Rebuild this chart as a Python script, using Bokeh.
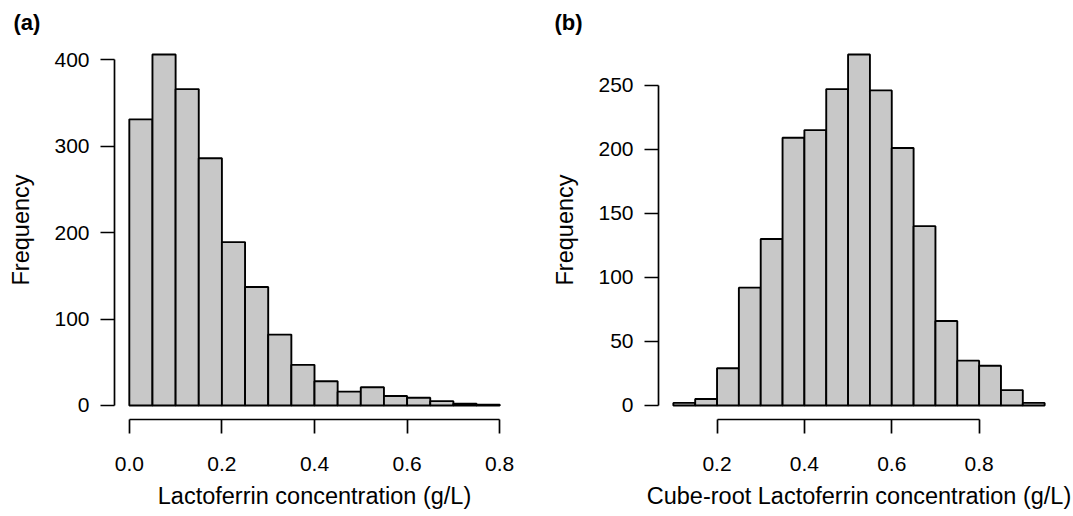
from bokeh.plotting import figure
from bokeh.layouts import row
from bokeh.models import Range1d, FixedTicker, ColumnDataSource, PrintfTickFormatter
from bokeh.embed import file_html
from bokeh.resources import INLINE

# ---- data ----
edges_a = [0.00, 0.05, 0.10, 0.15, 0.20, 0.25, 0.30, 0.35, 0.40, 0.45, 0.50,
           0.55, 0.60, 0.65, 0.70, 0.75, 0.80]
counts_a = [331, 406, 366, 286, 189, 137, 82, 47, 28, 16, 21, 11, 9, 5, 2, 1]
xticks_a = [0.0, 0.2, 0.4, 0.6, 0.8]
yticks_a = [0, 100, 200, 300, 400]

edges_b = [0.10, 0.15, 0.20, 0.25, 0.30, 0.35, 0.40, 0.45, 0.50, 0.55, 0.60,
           0.65, 0.70, 0.75, 0.80, 0.85, 0.90, 0.95]
counts_b = [2, 5, 29, 92, 130, 209, 215, 247, 274, 246, 201, 140, 66, 35, 31, 12, 2]
xticks_b = [0.2, 0.4, 0.6, 0.8]
yticks_b = [0, 50, 100, 150, 200, 250]

xlabel_a = "Lactoferrin concentration (g/L)"
xlabel_b = "Cube-root Lactoferrin concentration (g/L)"
ylabel = "Frequency"

FONT = "Liberation Sans"
BAR_FILL = "#c8c8c8"


def panel(edges, counts, xticks, yticks, xlabel, tag, width, left, right, tag_offset):
    lo, hi = edges[0], edges[-1]
    dx = (hi - lo) * 0.04
    ymax = max(counts)
    dy = ymax * 0.04
    p = figure(width=width, height=516,
               x_range=Range1d(lo - dx, hi + dx), y_range=Range1d(-dy, ymax + dy),
               output_backend="svg", toolbar_location=None,
               min_border_left=left, min_border_right=right,
               min_border_top=40, min_border_bottom=97)
    src = ColumnDataSource(dict(left=edges[:-1], right=edges[1:],
                                top=counts, bottom=[0] * len(counts)))
    p.quad(left="left", right="right", top="top", bottom="bottom", source=src,
           fill_color=BAR_FILL, line_color="black", line_width=1.9)
    p.grid.visible = False
    p.outline_line_color = None
    p.background_fill_color = "white"
    p.border_fill_color = "white"

    xa = p.xaxis[0]
    xa.ticker = FixedTicker(ticks=xticks, minor_ticks=[])
    xa.bounds = (xticks[0], xticks[-1])
    xa.formatter = PrintfTickFormatter(format="%.1f")
    ya = p.yaxis[0]
    ya.ticker = FixedTicker(ticks=yticks, minor_ticks=[])
    ya.bounds = (yticks[0], yticks[-1])
    for ax in (xa, ya):
        ax.major_tick_out = 14
        ax.major_tick_in = 0
        ax.minor_tick_line_color = None
        ax.axis_line_width = 1.7
        ax.major_tick_line_width = 1.7
        ax.axis_line_color = "black"
        ax.major_tick_line_color = "black"
        ax.major_label_text_font = FONT
        ax.major_label_text_font_size = "21px"
        ax.major_label_text_color = "black"
        ax.axis_label_text_font = FONT
        ax.axis_label_text_font_size = "23.5px"
        ax.axis_label_text_font_style = "normal"
        ax.axis_label_text_color = "black"
    xa.axis_label = xlabel
    xa.major_label_standoff = 23
    xa.axis_label_standoff = 9
    ya.axis_label = ylabel
    ya.major_label_standoff = 11
    ya.axis_label_standoff = 17

    p.title.text = tag
    p.title.align = "left"
    p.title.offset = tag_offset
    p.title.text_font = FONT
    p.title.text_font_size = "22px"
    p.title.text_font_style = "bold"
    p.title.text_color = "black"
    p.title.standoff = 11
    return p


pa = panel(edges_a, counts_a, xticks_a, yticks_a, xlabel_a, "(a)", 536, 114, 22, -101)
pb = panel(edges_b, counts_b, xticks_b, yticks_b, xlabel_b, "(b)", 537, 122, 14, -104)

layout = row(pa, pb)
open("out.html", "w").write(file_html(layout, INLINE))
